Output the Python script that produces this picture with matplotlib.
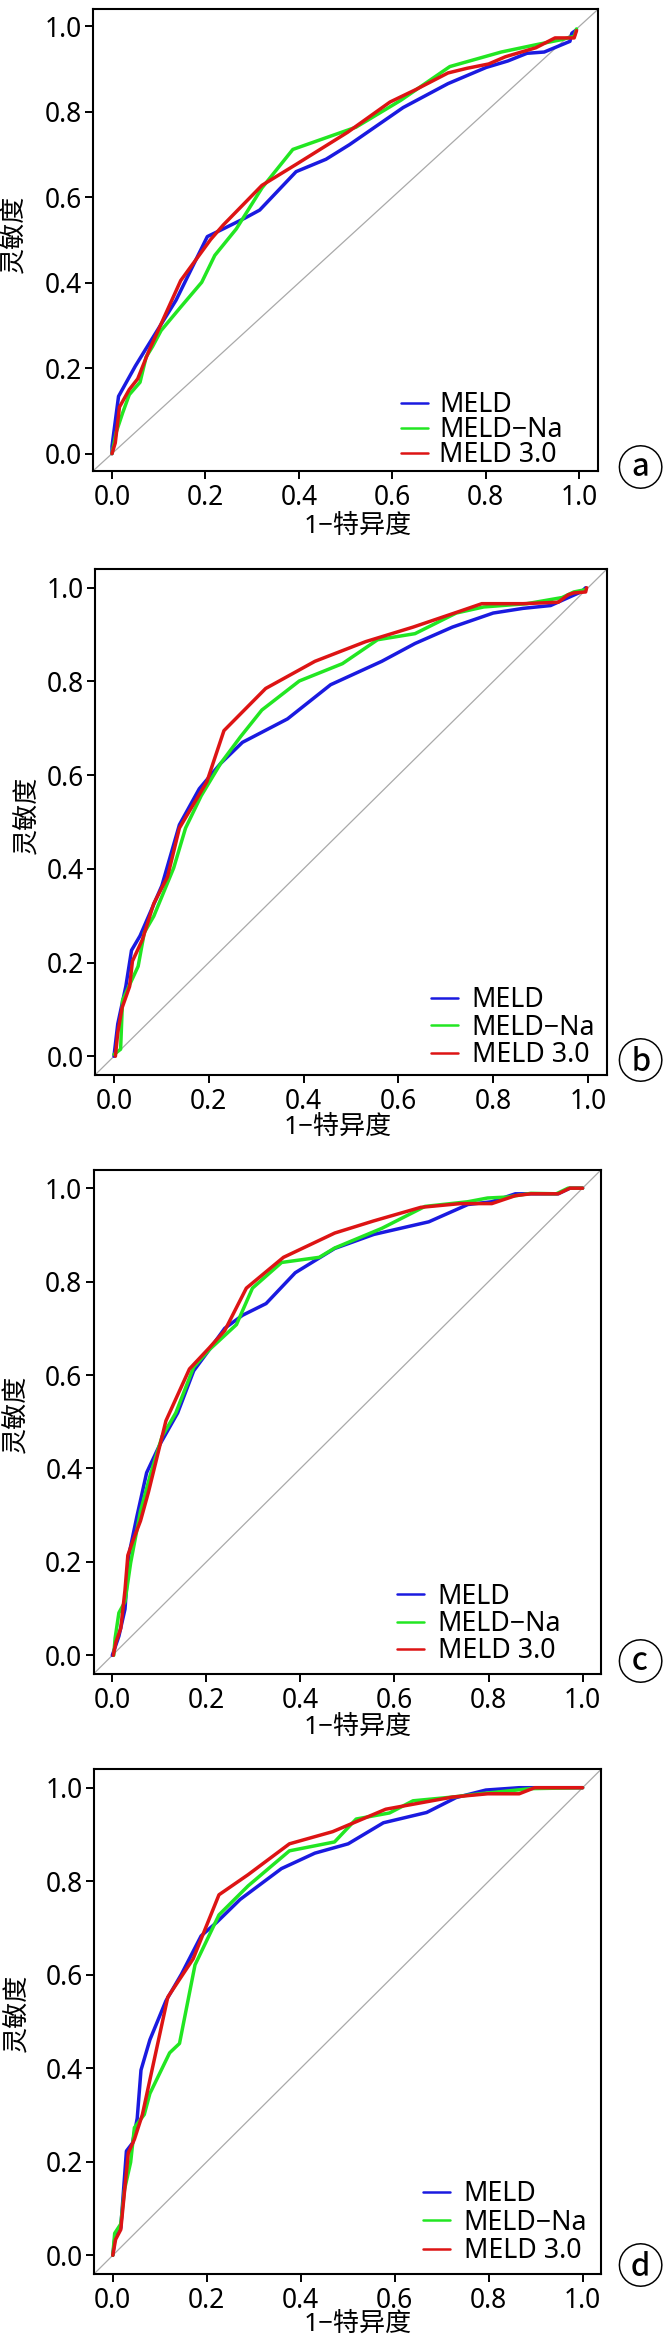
import matplotlib
matplotlib.use('Agg')
import matplotlib.pyplot as plt

# ---------------- data ----------------
series_names = ['MELD', 'MELD−Na', 'MELD 3.0']
series_colors = ['#1a1ae0', '#22e622', '#dd1414']
tick_values = [0.0, 0.2, 0.4, 0.6, 0.8, 1.0]
tick_labels = ['0.0', '0.2', '0.4', '0.6', '0.8', '1.0']
panel_tags = ['ⓐ', 'ⓑ', 'ⓒ', 'ⓓ']
x_title = '1−特异度'
y_title = '灵敏度'

# panel a
fpr_a_meld = [0.0, 0.0, 0.014, 0.05, 0.073, 0.137, 0.204, 0.238, 0.284, 0.316, 0.394, 0.458, 0.508, 0.623, 0.719, 0.801, 0.847, 0.888, 0.925, 0.980, 0.984, 0.994]
tpr_a_meld = [0.0, 0.017, 0.134, 0.205, 0.246, 0.359, 0.508, 0.526, 0.551, 0.570, 0.660, 0.689, 0.723, 0.810, 0.866, 0.904, 0.919, 0.937, 0.940, 0.965, 0.984, 0.992]
fpr_a_na = [0.0, 0.009, 0.023, 0.037, 0.06, 0.073, 0.087, 0.105, 0.147, 0.192, 0.22, 0.266, 0.321, 0.387, 0.522, 0.618, 0.723, 0.833, 0.907, 0.962, 0.989, 0.994]
tpr_a_na = [0.0, 0.05, 0.096, 0.138, 0.167, 0.226, 0.251, 0.288, 0.343, 0.401, 0.464, 0.526, 0.622, 0.712, 0.764, 0.827, 0.906, 0.940, 0.957, 0.969, 0.977, 0.994]
fpr_a_30 = [0.0, 0.007, 0.016, 0.037, 0.055, 0.078, 0.147, 0.211, 0.238, 0.321, 0.394, 0.504, 0.595, 0.650, 0.719, 0.760, 0.806, 0.842, 0.907, 0.948, 0.989, 0.994]
tpr_a_30 = [0.0, 0.025, 0.109, 0.150, 0.175, 0.238, 0.405, 0.501, 0.535, 0.628, 0.677, 0.752, 0.823, 0.852, 0.891, 0.902, 0.912, 0.929, 0.950, 0.973, 0.973, 0.990]

# panel b
fpr_b_meld = [0.0, 0.008, 0.025, 0.037, 0.055, 0.101, 0.138, 0.180, 0.225, 0.271, 0.366, 0.457, 0.565, 0.635, 0.714, 0.800, 0.863, 0.921, 0.954, 0.987, 0.995]
tpr_b_meld = [0.0, 0.069, 0.149, 0.226, 0.257, 0.364, 0.494, 0.571, 0.625, 0.670, 0.720, 0.793, 0.843, 0.881, 0.916, 0.946, 0.956, 0.962, 0.977, 0.992, 1.0]
fpr_b_na = [0.0, 0.014, 0.018, 0.035, 0.051, 0.064, 0.084, 0.126, 0.151, 0.184, 0.225, 0.267, 0.312, 0.391, 0.482, 0.556, 0.635, 0.722, 0.780, 0.871, 0.945, 0.970, 0.995]
tpr_b_na = [0.004, 0.015, 0.119, 0.157, 0.192, 0.264, 0.299, 0.402, 0.487, 0.556, 0.625, 0.682, 0.739, 0.801, 0.838, 0.889, 0.902, 0.946, 0.959, 0.966, 0.979, 0.991, 0.996]
fpr_b_30 = [0.003, 0.008, 0.017, 0.033, 0.039, 0.060, 0.084, 0.113, 0.138, 0.196, 0.232, 0.320, 0.424, 0.531, 0.631, 0.730, 0.776, 0.863, 0.937, 0.958, 0.970, 0.995, 0.997]
tpr_b_30 = [0.0, 0.05, 0.103, 0.149, 0.203, 0.249, 0.326, 0.383, 0.487, 0.586, 0.695, 0.785, 0.843, 0.885, 0.916, 0.950, 0.966, 0.966, 0.969, 0.985, 0.989, 0.991, 1.0]

# panel c
fpr_c_meld = [0.0, 0.014, 0.027, 0.035, 0.052, 0.073, 0.102, 0.139, 0.173, 0.206, 0.239, 0.277, 0.327, 0.389, 0.473, 0.556, 0.673, 0.756, 0.807, 0.857, 0.948, 0.973, 1.0]
tpr_c_meld = [0.0, 0.041, 0.099, 0.214, 0.296, 0.391, 0.453, 0.519, 0.609, 0.654, 0.700, 0.728, 0.753, 0.819, 0.871, 0.901, 0.928, 0.965, 0.971, 0.988, 0.988, 1.0, 1.0]
fpr_c_na = [0.003, 0.006, 0.014, 0.027, 0.039, 0.060, 0.081, 0.106, 0.135, 0.173, 0.206, 0.264, 0.298, 0.360, 0.440, 0.473, 0.573, 0.665, 0.756, 0.798, 0.840, 0.890, 0.944, 0.969, 1.0]
tpr_c_na = [0.0, 0.037, 0.091, 0.115, 0.198, 0.309, 0.387, 0.469, 0.519, 0.617, 0.654, 0.708, 0.786, 0.841, 0.852, 0.872, 0.914, 0.961, 0.971, 0.979, 0.981, 0.989, 0.988, 1.0, 1.0]
fpr_c_30 = [0.002, 0.008, 0.018, 0.027, 0.033, 0.043, 0.060, 0.077, 0.114, 0.164, 0.206, 0.239, 0.285, 0.364, 0.473, 0.556, 0.656, 0.740, 0.807, 0.857, 0.890, 0.948, 0.973, 1.0]
tpr_c_30 = [0.0, 0.029, 0.058, 0.140, 0.214, 0.243, 0.288, 0.350, 0.502, 0.613, 0.658, 0.695, 0.786, 0.852, 0.904, 0.930, 0.959, 0.967, 0.967, 0.984, 0.988, 0.988, 1.0, 1.0]

# panel d
fpr_d_meld = [0.0, 0.004, 0.017, 0.029, 0.042, 0.052, 0.060, 0.079, 0.113, 0.146, 0.188, 0.221, 0.271, 0.359, 0.430, 0.501, 0.576, 0.668, 0.731, 0.794, 0.865, 1.0]
tpr_d_meld = [0.0, 0.034, 0.059, 0.223, 0.240, 0.293, 0.396, 0.461, 0.544, 0.601, 0.683, 0.712, 0.761, 0.827, 0.860, 0.880, 0.925, 0.947, 0.979, 0.995, 1.0, 1.0]
fpr_d_na = [0.0, 0.004, 0.017, 0.025, 0.038, 0.046, 0.067, 0.079, 0.121, 0.142, 0.175, 0.226, 0.288, 0.376, 0.472, 0.518, 0.589, 0.639, 0.723, 0.781, 0.890, 1.0]
tpr_d_na = [0.0, 0.047, 0.067, 0.141, 0.199, 0.273, 0.301, 0.346, 0.433, 0.453, 0.621, 0.728, 0.790, 0.865, 0.884, 0.933, 0.946, 0.972, 0.980, 0.987, 0.998, 1.0]
fpr_d_30 = [0.0, 0.006, 0.017, 0.033, 0.046, 0.063, 0.117, 0.171, 0.226, 0.288, 0.376, 0.468, 0.581, 0.723, 0.798, 0.865, 0.898, 1.0]
tpr_d_30 = [0.0, 0.034, 0.055, 0.219, 0.248, 0.301, 0.552, 0.634, 0.771, 0.814, 0.880, 0.906, 0.954, 0.980, 0.987, 0.987, 1.0, 1.0]

panel_data = [
    [(fpr_a_meld, tpr_a_meld), (fpr_a_na, tpr_a_na), (fpr_a_30, tpr_a_30)],
    [(fpr_b_meld, tpr_b_meld), (fpr_b_na, tpr_b_na), (fpr_b_30, tpr_b_30)],
    [(fpr_c_meld, tpr_c_meld), (fpr_c_na, tpr_c_na), (fpr_c_30, tpr_c_30)],
    [(fpr_d_meld, tpr_d_meld), (fpr_d_na, tpr_d_na), (fpr_d_30, tpr_d_30)],
]

# ---------------- layout (pixels in a 672 x 2339 canvas) ----------------
W, H = 672, 2339
layout = [
    dict(box=(93.3, 9.3, 598.0, 470.7), ylab=(15, 234), xlab=(358, 526), tag=(640, 472),
         leg=(401, 430, 24.7, 11.0)),
    dict(box=(95.0, 569.0, 607.0, 1075.0), ylab=(28, 815), xlab=(338, 1127), tag=(640, 1065),
         leg=(430.7, 1027.6, 27.0, 13.7)),
    dict(box=(93.5, 1169.5, 601.4, 1674.0), ylab=(17, 1414), xlab=(358, 1727), tag=(640, 1666),
         leg=(396.6, 1624.0, 27.0, 13.8)),
    dict(box=(94.0, 1769.0, 601.4, 2274.0), ylab=(18, 2013), xlab=(358, 2324), tag=(640, 2270),
         leg=(422.9, 2222.5, 28.2, 13.6)),
]

FAM = ['Noto Sans', 'Noto Sans CJK SC', 'DejaVu Sans']
plt.rcParams['font.family'] = FAM
plt.rcParams['font.weight'] = 'medium'
plt.rcParams['axes.linewidth'] = 1.5

fig = plt.figure(figsize=(W / 100, H / 100), dpi=100)

FS_TICK = 19
FS_LEG = 19.3
FS_LAB = 18.8
em_px = FS_LEG * 100 / 72

for i, (lay, data) in enumerate(zip(layout, panel_data)):
    l, t, r, b = lay['box']
    ax = fig.add_axes([l / W, 1 - b / H, (r - l) / W, (b - t) / H])
    ax.set_xlim(-0.04, 1.04)
    ax.set_ylim(-0.04, 1.04)
    ax.axline((0, 0), (1, 1), color='#a9a9a9', lw=0.9, zorder=1)
    for (fx, ty), name, col in zip(data, series_names, series_colors):
        ax.plot(fx, ty, color=col, lw=2.5, label=name, zorder=3,
                solid_joinstyle='round', solid_capstyle='round')
    ax.set_xticks(tick_values)
    ax.set_xticklabels(tick_labels)
    ax.set_yticks(tick_values)
    ax.set_yticklabels(tick_labels)
    ax.tick_params(axis='both', direction='out', length=5.8, width=1.4,
                   labelsize=FS_TICK, color='black')
    ax.tick_params(axis='y', pad=2.2)
    ax.tick_params(axis='x', pad=3.6)

    lx, ly, spacing, gap = lay['leg']
    leg = ax.legend(loc='center left', bbox_to_anchor=(lx / W, 1 - ly / H),
                    bbox_transform=fig.transFigure, frameon=False,
                    fontsize=FS_LEG, borderpad=0, borderaxespad=0,
                    handlelength=27.3 / em_px, handletextpad=gap / em_px,
                    labelspacing=(spacing - 1.03 * em_px) / em_px)
    for ln in leg.get_lines():
        ln.set_linewidth(1.8)

    yx, yy = lay['ylab']
    fig.text(yx / W, 1 - yy / H, y_title, rotation=90, ha='center', va='center',
             fontsize=FS_LAB, family=FAM)
    xx, xy = lay['xlab']
    fig.text(xx / W, 1 - xy / H, x_title, ha='center', va='center',
             fontsize=FS_LAB, family=FAM)
    tx, ty_ = lay['tag']
    fig.text(tx / W, 1 - ty_ / H, panel_tags[i], ha='center', va='center',
             fontsize=34, family=['Noto Sans CJK SC', 'DejaVu Sans'])

fig.savefig('out.png', dpi=100)
